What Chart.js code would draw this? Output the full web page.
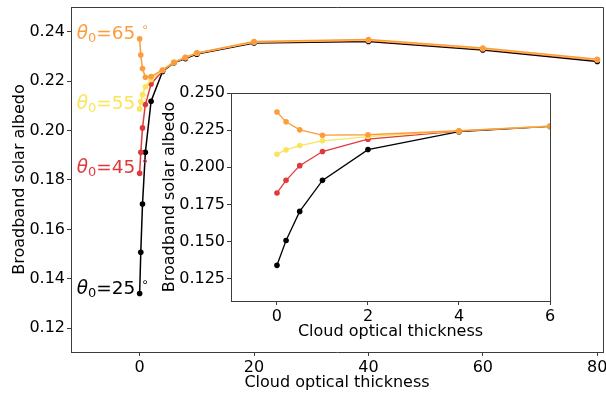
<!DOCTYPE html>
<html>
<head>
<meta charset="utf-8">
<script src="https://cdn.jsdelivr.net/npm/chart.js@4.4.1/dist/chart.umd.min.js"></script>
<style>
  html, body { margin: 0; padding: 0; background: #fff; }
  #wrap { position: relative; width: 606px; height: 393px; }
  #main  { position: absolute; left: 0; top: 0; }
  #inset { position: absolute; left: 150px; top: 85px; }
</style>
</head>
<body>
<div id="wrap">
  <canvas id="main" width="606" height="393"></canvas>
  <canvas id="inset" width="410" height="260"></canvas>
</div>
<script>
// cloud optical thickness (x)
const tau = [0, 0.2, 0.5, 1, 2, 4, 6, 8, 10, 20, 40, 60, 80];

// broadband solar albedo per solar zenith angle
const albedo65 = [0.2372, 0.2306, 0.2252, 0.2216, 0.2219, 0.2246, 0.2276, 0.2297, 0.2315, 0.2361, 0.2369, 0.2335, 0.2289];
const albedo55 = [0.2088, 0.2117, 0.2146, 0.2178, 0.2207, 0.2245, 0.2278, 0.2296, 0.2314, 0.2359, 0.2367, 0.2333, 0.2287];
const albedo45 = [0.1827, 0.1912, 0.2011, 0.2106, 0.2189, 0.2243, 0.2277, 0.2295, 0.2313, 0.2358, 0.2365, 0.2331, 0.2285];
const albedo25 = [0.1340, 0.1507, 0.1703, 0.1912, 0.2119, 0.2240, 0.2275, 0.2292, 0.2310, 0.2355, 0.2361, 0.2327, 0.2280];

const angles = [65, 55, 45, 25];
const series = [albedo65, albedo55, albedo45, albedo25];
const colors = ['#fb9d3c', '#f9e45c', '#e0393b', '#000000'];

const mainXTicks  = [0, 20, 40, 60, 80];
const mainYTicks  = [0.12, 0.14, 0.16, 0.18, 0.20, 0.22, 0.24];
const insetXTicks = [0, 2, 4, 6];
const insetYTicks = [0.125, 0.150, 0.175, 0.200, 0.225, 0.250];

const FONT = 'DejaVu Sans';
const spine = '#3c3c3c';

function makeDatasets(lw, r) {
  // first dataset is drawn on top in Chart.js -> orange first
  return series.map((s, i) => ({
    label: `θ0=${angles[i]}`,
    data: tau.map((t, j) => ({ x: t, y: s[j] })),
    borderColor: colors[i],
    backgroundColor: colors[i],
    borderWidth: lw,
    pointRadius: r,
    pointBorderWidth: 0,
    pointHoverRadius: r,
    tension: 0,
  }));
}

function axis(min, max, ticks, fmt, title, size, tickPad, titlePad) {
  return {
    type: 'linear', min, max,
    afterBuildTicks: s => { s.ticks = ticks.map(v => ({ value: v })); },
    afterFit: s => {
      if (s.isHorizontal()) s.height = size; else s.width = size;
      s.paddingLeft = s.paddingRight = s.paddingTop = s.paddingBottom = 0;
    },
    grid: { drawOnChartArea: false, drawTicks: true, tickLength: 4, color: spine, lineWidth: 1 },
    border: { display: true, color: spine, width: 1 },
    ticks: { color: '#000', font: { family: FONT, size: 16 }, padding: tickPad, maxRotation: 0, autoSkip: false, callback: fmt },
    title: { display: true, text: title, color: '#000', font: { family: FONT, size: 16 }, padding: titlePad },
  };
}

// white axes face + top/right spines
const frame = {
  id: 'frame',
  beforeDraw(ch) {
    const { ctx, chartArea: a } = ch;
    ctx.save();
    ctx.fillStyle = '#fff';
    ctx.fillRect(a.left, a.top, a.right - a.left, a.bottom - a.top);
    ctx.restore();
  },
  afterDraw(ch) {
    const { ctx, chartArea: a } = ch;
    ctx.save();
    ctx.strokeStyle = spine;
    ctx.lineWidth = 1;
    ctx.beginPath();
    ctx.moveTo(a.left, Math.round(a.top) + 0.5);
    ctx.lineTo(Math.round(a.right) + 0.5, Math.round(a.top) + 0.5);
    ctx.lineTo(Math.round(a.right) + 0.5, a.bottom);
    ctx.stroke();
    ctx.restore();
  }
};

// θ0=NN° labels, baseline at the tau=0 albedo
const angleLabels = {
  id: 'angleLabels',
  afterDatasetsDraw(ch) {
    const ctx = ch.ctx;
    const xs = ch.scales.x, ys = ch.scales.y;
    ctx.save();
    ctx.textBaseline = 'alphabetic';
    ctx.textAlign = 'left';
    series.forEach((s, i) => {
      let x = xs.getPixelForValue(-11);
      const y = ys.getPixelForValue(s[0]);
      ctx.fillStyle = colors[i];
      ctx.font = `italic 18.5px ${FONT}`;
      ctx.fillText('θ', x, y);
      x += ctx.measureText('θ').width;
      ctx.font = `13px ${FONT}`;
      ctx.fillText('0', x, y + 3);
      x += ctx.measureText('0').width;
      ctx.font = `18.5px ${FONT}`;
      const t = `=${angles[i]}`;
      ctx.fillText(t, x, y);
      x += ctx.measureText(t).width + 6;
      ctx.font = `12px ${FONT}`;
      ctx.fillText('∘', x, y - 8);
    });
    ctx.restore();
  }
};

new Chart(document.getElementById('main'), {
  type: 'line',
  data: { datasets: makeDatasets(1.5, 2.8) },
  options: {
    responsive: false, animation: false,
    layout: { padding: { left: 0, top: 7, right: 3, bottom: 0 } },
    plugins: { legend: { display: false }, tooltip: { enabled: false } },
    scales: {
      x: axis(-12, 81, mainXTicks, v => String(v), 'Cloud optical thickness', 41, 2, { top: 0, bottom: 1 }),
      y: axis(0.1103, 0.2501, mainYTicks, v => v.toFixed(2), 'Broadband solar albedo', 71, 2, { top: 10, bottom: 0 }),
    }
  },
  plugins: [frame, angleLabels]
});

new Chart(document.getElementById('inset'), {
  type: 'line',
  data: { datasets: makeDatasets(1.3, 2.8) },
  options: {
    responsive: false, animation: false,
    layout: { padding: { left: 0, top: 8, right: 10, bottom: 0 } },
    plugins: { legend: { display: false }, tooltip: { enabled: false } },
    scales: {
      x: axis(-1.01, 6, insetXTicks, v => String(v), 'Cloud optical thickness', 44, 2, { top: 0, bottom: 4 }),
      y: axis(0.110, 0.250, insetYTicks, v => v.toFixed(3), 'Broadband solar albedo', 81, 2, { top: 10, bottom: 0 }),
    }
  },
  plugins: [frame]
});
</script>
</body>
</html>
